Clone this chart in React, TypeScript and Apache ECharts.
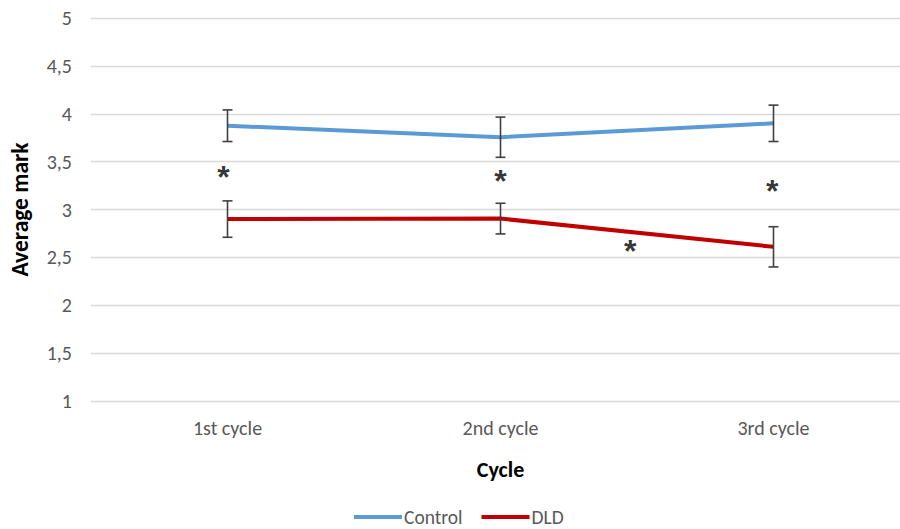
import React, { useEffect, useRef } from "react";
import * as echarts from "echarts";

const categories = ["1st cycle", "2nd cycle", "3rd cycle"];
const controlMean = [3.875, 3.755, 3.9];
const controlErr = [0.165, 0.21, 0.19];
const dldMean = [2.9, 2.905, 2.61];
const dldErr = [0.19, 0.16, 0.21];
// asterisk markers: [x position (category index), y value]
const asterisks = [
  [-0.015, 3.38],
  [1.0, 3.34],
  [1.995, 3.24],
  [1.475, 2.61],
];
const yTicks = { min: 1, max: 5, interval: 0.5 };

const FONT = "Carlito, 'Liberation Sans Narrow', 'Liberation Sans', sans-serif";

export default function App() {
  const ref = useRef<HTMLDivElement>(null);
  useEffect(() => {
    if (!ref.current) return;
    const chart = echarts.init(ref.current, undefined, { renderer: "svg" });
    const errData = (means: number[], errs: number[]) =>
      means.map((m, i) => [i, m - errs[i], m + errs[i]]);
    const renderErr = (params: any, api: any) => {
      const x = api.value(0);
      const lo = api.coord([x, api.value(1)]);
      const hi = api.coord([x, api.value(2)]);
      const hw = 5;
      const style = { stroke: "#404040", lineWidth: 1.6 };
      return {
        type: "group",
        children: [
          { type: "line", shape: { x1: lo[0], y1: lo[1], x2: hi[0], y2: hi[1] }, style },
          { type: "line", shape: { x1: lo[0] - hw, y1: lo[1], x2: lo[0] + hw, y2: lo[1] }, style },
          { type: "line", shape: { x1: hi[0] - hw, y1: hi[1], x2: hi[0] + hw, y2: hi[1] }, style },
        ],
      };
    };
    chart.setOption({
      animation: false,
      textStyle: { fontFamily: FONT },
      grid: { left: 86, top: 18, height: 383, width: 824 },
      legend: {
        data: ["Control", "DLD"],
        top: 507,
        left: 354,
        icon: "rect",
        itemWidth: 48,
        itemHeight: 4,
        itemGap: 19,
        padding: 0,
        textStyle: {
          color: "#595959",
          fontSize: 19.5,
          lineHeight: 20,
          fontFamily: FONT,
          padding: [0, 0, 0, -3],
        },
      },
      xAxis: [
        {
          type: "category",
          data: categories,
          boundaryGap: true,
          axisLine: { show: false },
          axisTick: { show: false },
          axisLabel: { color: "#595959", fontSize: 20, margin: 17, fontFamily: FONT },
          name: "Cycle",
          nameLocation: "middle",
          nameGap: 57,
          nameTextStyle: { color: "#000", fontSize: 22, fontWeight: "bold", fontFamily: FONT },
        },
        {
          type: "value",
          min: -0.5,
          max: 2.5,
          show: false,
        },
      ],
      yAxis: {
        type: "value",
        min: yTicks.min,
        max: yTicks.max,
        interval: yTicks.interval,
        axisLine: { show: false },
        axisTick: { show: false },
        splitLine: { lineStyle: { color: "#d9d9d9", width: 1.3 } },
        axisLabel: {
          color: "#595959",
          fontSize: 20,
          margin: 19,
          fontFamily: FONT,
          formatter: (v: number) => String(v).replace(".", ","),
        },
        name: "Average mark",
        nameLocation: "middle",
        nameGap: 59,
        nameTextStyle: { color: "#000", fontSize: 23.5, fontWeight: "bold", fontFamily: FONT },
      },
      series: [
        {
          name: "Control",
          type: "line",
          data: controlMean,
          symbol: "none",
          itemStyle: { color: "#5b9bd5" },
          lineStyle: { color: "#5b9bd5", width: 4 },
          z: 3,
        },
        {
          name: "DLD",
          type: "line",
          data: dldMean,
          symbol: "none",
          itemStyle: { color: "#c00000" },
          lineStyle: { color: "#c00000", width: 4 },
          z: 3,
        },
        {
          type: "custom",
          data: errData(controlMean, controlErr),
          renderItem: renderErr,
          encode: { x: 0, y: [1, 2] },
          z: 4,
        },
        {
          type: "custom",
          data: errData(dldMean, dldErr),
          renderItem: renderErr,
          encode: { x: 0, y: [1, 2] },
          z: 4,
        },
        {
          type: "scatter",
          xAxisIndex: 1,
          data: asterisks,
          symbolSize: 0,
          label: {
            show: true,
            position: "inside",
            formatter: "*",
            color: "#000",
            fontSize: 32,
            fontWeight: "bold",
            fontFamily: "'Liberation Sans', sans-serif",
            offset: [0, 4],
          },
          z: 5,
        },
      ],
    });
    return () => chart.dispose();
  }, []);
  return (
    <div
      ref={ref}
      style={{ position: "fixed", left: 0, top: 0, width: 930, height: 529, background: "#fff" }}
    />
  );
}
